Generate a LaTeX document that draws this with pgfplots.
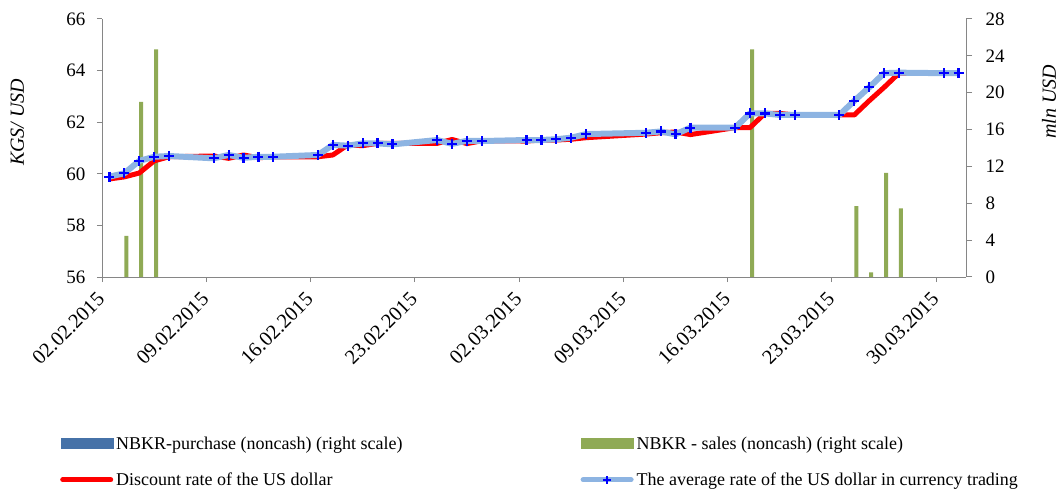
\documentclass[border=0pt]{standalone}
\usepackage{fontspec}
\setmainfont{Liberation Serif}
\usepackage{pgfplots}
\pgfplotsset{compat=1.18}
\definecolor{axisgray}{HTML}{868686}
\definecolor{purch}{HTML}{4672A8}
\definecolor{sales}{HTML}{8FAA55}
\definecolor{ltblue}{HTML}{8DB4E2}
\begin{document}
\begin{tikzpicture}[x=1pt,y=1pt]
\path[use as bounding box] (0,0) rectangle (1062,490);
% right axis: bars
\begin{axis}[
  at={(102pt,213pt)}, anchor=south west,
  width=864pt, height=258pt, scale only axis,
  xmin=0, xmax=58, ymin=0, ymax=28,
  axis y line*=right, axis x line=none,
  axis line style={axisgray, line width=1pt, -},
  ytick={0,4,...,28},
  tick align=outside, major tick length=6pt,
  tick style={axisgray, line width=1pt},
  ticklabel style={font=\fontsize{19}{22}\selectfont},
  /pgf/number format/assume math mode=true,
  yticklabel style={xshift=10pt},
  ylabel={\itshape mln USD},
  ylabel style={font=\fontsize{20}{23}\selectfont, at={(axis description cs:1.096,0.68)}, anchor=center},
]
\addplot[ybar, bar width=4pt, bar shift=2pt, fill=sales, draw=none] coordinates {
(1.5,4.45) (2.5,19.0) (3.5,24.7) (43.5,24.7) (50.5,7.7) (51.5,0.5) (52.5,11.3) (53.5,7.45)};
\end{axis}
% left axis: lines
\begin{axis}[
  at={(102pt,213pt)}, anchor=south west,
  width=864pt, height=258pt, scale only axis,
  xmin=0, xmax=58, ymin=56, ymax=66,
  axis x line*=bottom, axis y line*=left,
  axis line style={axisgray, line width=1pt, -},
  ytick={56,58,...,66},
  xtick={0,7,...,56},
  xticklabels={02.02.2015,09.02.2015,16.02.2015,23.02.2015,02.03.2015,09.03.2015,16.03.2015,23.03.2015,30.03.2015},
  tick align=outside, major tick length=5pt,
  tick style={axisgray, line width=1pt},
  ticklabel style={font=\fontsize{19}{22}\selectfont},
  /pgf/number format/assume math mode=true,
  xticklabel style={font=\fontsize{20.5}{23}\selectfont, xshift=-6pt, yshift=-4pt, rotate=45, anchor=north east},
  yticklabel style={xshift=-8pt},
  ylabel={\itshape KGS/ USD},
  ylabel style={font=\fontsize{20}{23}\selectfont, at={(axis description cs:-0.098,0.60)}, anchor=center},
  legend columns=2,
  legend cell align=left,
  legend style={at={(axis description cs:-0.0486,-0.6103)}, anchor=north west,
    draw=none, fill=none, inner sep=0pt,
    font=\fontsize{18}{21}\selectfont,
    /tikz/every even column/.append style={column sep=176pt},
    /tikz/every odd column/.append style={column sep=1pt},
    row sep=18pt},
]
\addlegendimage{legend image code/.code={\fill[purch] (0pt,-5pt) rectangle (52pt,5pt);}}
\addlegendentry{NBKR-purchase (noncash) (right scale)}
\addlegendimage{legend image code/.code={\fill[sales] (0pt,-5pt) rectangle (52pt,5pt);}}
\addlegendentry{NBKR - sales (noncash) (right scale)}
\addplot[red, line width=5pt, line join=round, mark=none,
  legend image code/.code={\draw[red, line width=5pt, line cap=round] (2pt,0pt) -- (50pt,0pt);}]
coordinates {
(0.5,59.80) (1.5,59.88) (2.5,60.03) (3.5,60.50) (4.5,60.66)
(7.5,60.69) (8.5,60.60) (9.5,60.73) (10.5,60.62) (11.5,60.66)
(14.5,60.66) (15.5,60.73) (16.5,61.12) (17.5,61.09) (18.5,61.18) (19.5,61.18)
(22.5,61.18) (23.5,61.33) (24.5,61.17) (25.5,61.28)
(28.5,61.27) (29.5,61.31) (30.5,61.31) (31.5,61.34) (32.5,61.40)
(36.5,61.54) (37.5,61.59) (38.5,61.62) (39.5,61.52)
(42.5,61.79) (43.5,61.79) (44.5,62.34) (45.5,62.34) (46.5,62.28)
(49.5,62.28) (50.5,62.28) (51.5,62.83) (52.5,63.35) (53.5,63.90)
(56.5,63.92) (57.5,63.90)};
\addlegendentry{Discount rate of the US dollar}
\addplot[ltblue, line width=6pt, line join=round, mark=+, mark size=5pt,
  mark options={blue, line width=2.2pt, solid},
  legend image code/.code={\draw[ltblue, line width=5pt, line cap=round] (2pt,0pt) -- (50pt,0pt);
    \draw[blue, line width=1.6pt] (22pt,0pt) -- (30pt,0pt) (26pt,-4pt) -- (26pt,4pt);}]
coordinates {
(0.5,59.89) (1.5,60.02) (2.5,60.50) (3.5,60.66) (4.5,60.69)
(7.5,60.60) (8.5,60.73) (9.5,60.62) (10.5,60.66) (11.5,60.66)
(14.5,60.73) (15.5,61.12) (16.5,61.09) (17.5,61.18) (18.5,61.18) (19.5,61.14)
(22.5,61.31) (23.5,61.16) (24.5,61.28) (25.5,61.27)
(28.5,61.31) (29.5,61.31) (30.5,61.34) (31.5,61.40) (32.5,61.54)
(36.5,61.59) (37.5,61.64) (38.5,61.53) (39.5,61.79)
(42.5,61.79) (43.5,62.34) (44.5,62.34) (45.5,62.28) (46.5,62.28)
(49.5,62.28) (50.5,62.83) (51.5,63.35) (52.5,63.90) (53.5,63.92)
(56.5,63.90) (57.5,63.90)};
\addlegendentry{The average rate of the US dollar in currency trading}
\end{axis}
\end{tikzpicture}
\end{document}
